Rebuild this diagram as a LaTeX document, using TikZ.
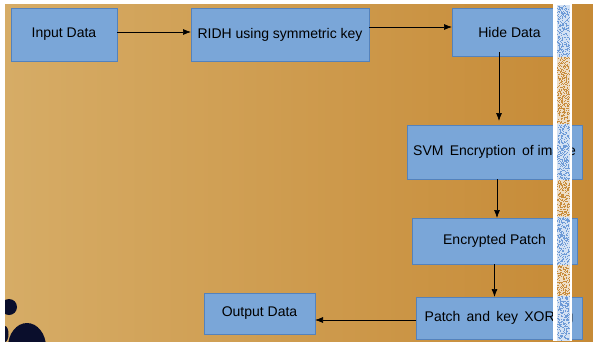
\documentclass[tikz,border=0pt]{standalone}
\usepackage{fontspec}
\setmainfont{Liberation Sans}
\usetikzlibrary{arrows.meta}
\definecolor{bgL}{RGB}{214,172,102}
\definecolor{bgR}{RGB}{198,138,54}
\definecolor{boxfill}{RGB}{122,166,216}
\definecolor{boxline}{RGB}{84,130,188}
\definecolor{blob}{RGB}{10,14,44}
\definecolor{speckB}{RGB}{110,155,215}
\definecolor{speckO}{RGB}{200,140,60}
\tikzset{
  box/.style={draw=boxline, line width=0.9pt, fill=boxfill, inner sep=0pt, outer sep=0pt,
    font=\fontsize{14}{16}\selectfont, text=black},
  arr/.style={draw=black, line width=0.7pt, -{Latex[length=8pt,width=6pt]}},
}
\begin{document}
\begin{tikzpicture}[x=1pt,y=-1pt]
\useasboundingbox (0,0) rectangle (593,341);
\fill[white] (0,0) rectangle (593,341);
% background
\begin{scope}
\clip (5,4) rectangle (593,341);
\shade[left color=bgL, right color=bgR] (5,4) rectangle (593,341);
\fill[blob] (9,307) circle (8);
\fill[blob] (27,347) ellipse (19 and 24);
\fill[blob] (5,334) ellipse (3.5 and 8);
\end{scope}
% boxes
\node[box, minimum width=106, minimum height=53] (in) at (64,34.5) {Input Data};
\node[box, minimum width=178, minimum height=53] (ridh) at (280,34.5) {RIDH using symmetric key};
\node[box, minimum width=115, minimum height=48] (hide) at (509.5,32) {Hide Data};
\node[box, minimum width=175, minimum height=54] (svm) at (494.5,152) {SVM\, Encryption\, of image};
\node[box, minimum width=165, minimum height=46] (enc) at (494.5,241) {Encrypted Patch};
\node[box, minimum width=166, minimum height=42] (xor) at (499,318) {Patch\, and\, key\, XORing};
\node[box, minimum width=111, minimum height=41] (out) at (259.5,313.5) {Output Data};
% connectors
\draw[arr] ([yshift=2.5]in.east) -- ([yshift=2.5]ridh.west);
\draw[arr] ([yshift=7.5]ridh.east) -- ([yshift=7.5]ridh.east -| hide.west);
\draw[arr] ([xshift=-10.5,yshift=4]hide.south) -- ([xshift=-10.5,yshift=4]hide.south |- svm.north);
\draw[arr] ([xshift=2.5]svm.south) -- ([xshift=2.5]svm.south |- enc.north);
\draw[arr] (enc.south) -- (enc.south |- xor.north);
\draw[arr] ([yshift=-2]xor.west) -- ([yshift=-2]xor.west -| out.east);
% speckled stripe
\fill[white] (553,4) rectangle (572,341);
\pgfmathsetseed{7}
\foreach \ya/\yb/\c in {5/57/speckB, 57/124/speckO, 124/180/speckB, 180/217/speckO, 217/265/speckB, 265/296/speckO, 296/341/speckB} {
  \fill[\c!30!white] (557,\ya) rectangle (570,\yb);
  \pgfmathtruncatemacro{\n}{int(6*(\yb-\ya))}
  \foreach \i in {1,...,\n} {
    \pgfmathsetmacro{\px}{557+12*rnd}
    \pgfmathsetmacro{\py}{\ya+(\yb-\ya-1)*rnd}
    \fill[\c] (\px,\py) rectangle ++(1,1);
  }
}
\end{tikzpicture}
\end{document}
